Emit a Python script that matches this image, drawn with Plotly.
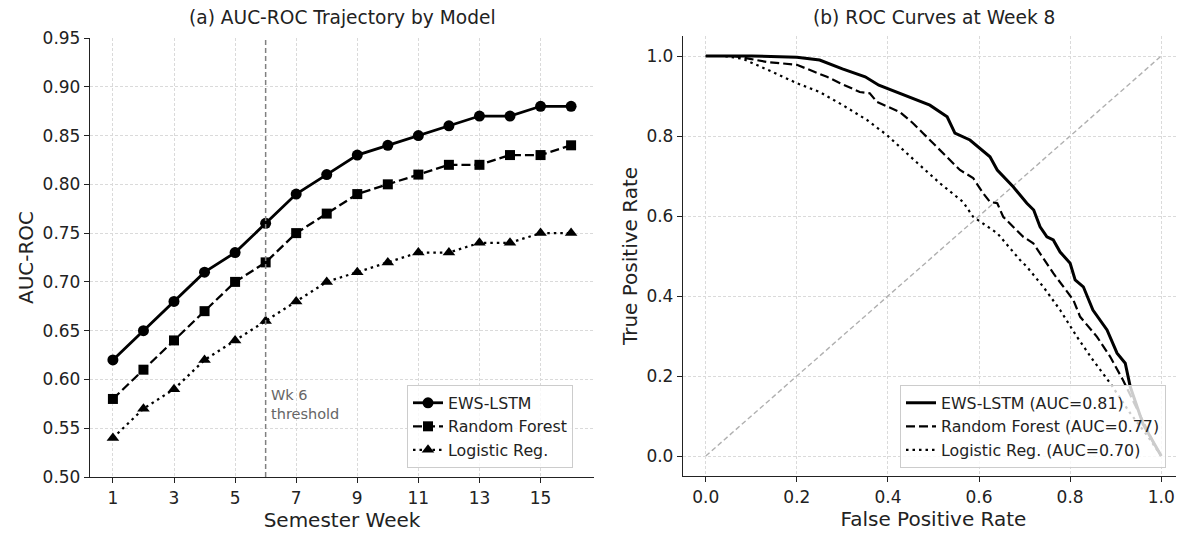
import plotly.graph_objects as go

# ---------------- data ----------------
weeks = list(range(1, 17))
ews_auc = [0.62, 0.65, 0.68, 0.71, 0.73, 0.76, 0.79, 0.81, 0.83, 0.84, 0.85, 0.86, 0.87, 0.87, 0.88, 0.88]
rf_auc = [0.58, 0.61, 0.64, 0.67, 0.70, 0.72, 0.75, 0.77, 0.79, 0.80, 0.81, 0.82, 0.82, 0.83, 0.83, 0.84]
lr_auc = [0.54, 0.57, 0.59, 0.62, 0.64, 0.66, 0.68, 0.70, 0.71, 0.72, 0.73, 0.73, 0.74, 0.74, 0.75, 0.75]

ews_fpr = [0.0, 0.10, 0.20, 0.25, 0.30, 0.35, 0.38, 0.426, 0.492, 0.53, 0.547, 0.58, 0.624, 0.64, 0.675,
           0.705, 0.72, 0.734, 0.749, 0.763, 0.778, 0.80, 0.811, 0.829, 0.85, 0.881, 0.903, 0.921, 0.932,
           0.96, 0.98, 1.0]
ews_tpr = [1.0, 1.0, 0.997, 0.99, 0.968, 0.948, 0.927, 0.907, 0.877, 0.848, 0.807, 0.79, 0.748, 0.715, 0.673,
           0.632, 0.615, 0.573, 0.548, 0.54, 0.51, 0.482, 0.44, 0.423, 0.365, 0.315, 0.257, 0.232, 0.173,
           0.08, 0.04, 0.0]

rf_fpr = [0.0, 0.06, 0.097, 0.134, 0.20, 0.229, 0.266, 0.295, 0.338, 0.36, 0.376, 0.426, 0.455, 0.477, 0.514,
          0.558, 0.587, 0.609, 0.624, 0.64, 0.653, 0.697, 0.719, 0.749, 0.763, 0.807, 0.822, 0.859, 0.888,
          0.916, 0.95, 0.98, 1.0]
rf_tpr = [1.0, 1.0, 0.993, 0.985, 0.978, 0.965, 0.948, 0.932, 0.91, 0.907, 0.885, 0.86, 0.832, 0.807, 0.765,
          0.715, 0.695, 0.657, 0.635, 0.632, 0.598, 0.548, 0.532, 0.482, 0.457, 0.39, 0.348, 0.298, 0.248,
          0.19, 0.11, 0.04, 0.0]

lr_fpr = [0.0, 0.04, 0.081, 0.112, 0.147, 0.20, 0.25, 0.301, 0.354, 0.398, 0.426, 0.47, 0.514, 0.565, 0.587,
          0.64, 0.69, 0.705, 0.741, 0.778, 0.815, 0.85, 0.888, 0.93, 0.97, 1.0]
lr_tpr = [1.0, 1.0, 0.993, 0.978, 0.96, 0.932, 0.91, 0.877, 0.84, 0.802, 0.772, 0.727, 0.682, 0.635, 0.598,
          0.557, 0.49, 0.473, 0.423, 0.365, 0.298, 0.24, 0.182, 0.11, 0.05, 0.0]

auc_labels = ["EWS-LSTM (AUC=0.81)", "Random Forest (AUC=0.77)", "Logistic Reg. (AUC=0.70)"]
model_names = ["EWS-LSTM", "Random Forest", "Logistic Reg."]
threshold_week = 6

FONT = "DejaVu Sans, Liberation Sans, sans-serif"
DASH = "9px,4px"
DOT = "2.5px,4px"
TICK = 17
LABEL = 20
TITLE = 18.6
LEG = 15.8

# the page body adds an 8px offset; figure is sized to fit the window
OFF = 8
W, H = 1184 - OFF, 535 - OFF


def xp(px):
    return (px - OFF) / W


def yp(py):
    return 1 - (py - OFF) / H


fig = go.Figure()

# ---------------- panel (a) ----------------
fig.add_trace(go.Scatter(x=weeks, y=ews_auc, mode="lines+markers", name=model_names[0],
                         line=dict(color="black", width=2.8),
                         marker=dict(symbol="circle", size=11, color="black"),
                         xaxis="x", yaxis="y", legend="legend"))
fig.add_trace(go.Scatter(x=weeks, y=rf_auc, mode="lines+markers", name=model_names[1],
                         line=dict(color="black", width=2.3, dash=DASH),
                         marker=dict(symbol="square", size=10, color="black"),
                         xaxis="x", yaxis="y", legend="legend"))
fig.add_trace(go.Scatter(x=weeks, y=lr_auc, mode="lines+markers", name=model_names[2],
                         line=dict(color="black", width=2.3, dash=DOT),
                         marker=dict(symbol="triangle-up", size=11, color="black"),
                         xaxis="x", yaxis="y", legend="legend"))

# threshold line
fig.add_trace(go.Scatter(x=[threshold_week, threshold_week], y=[0.5, 0.95], mode="lines",
                         line=dict(color="#808080", width=1.5, dash="5px,3px"),
                         showlegend=False, hoverinfo="skip", xaxis="x", yaxis="y"))

# ---------------- panel (b) ----------------
fig.add_trace(go.Scatter(x=[0, 1], y=[0, 1], mode="lines",
                         line=dict(color="#b0b0b0", width=1.4, dash="5px,3px"),
                         showlegend=False, hoverinfo="skip", xaxis="x2", yaxis="y2"))
fig.add_trace(go.Scatter(x=ews_fpr, y=ews_tpr, mode="lines", name=auc_labels[0],
                         line=dict(color="black", width=3),
                         xaxis="x2", yaxis="y2", legend="legend2"))
fig.add_trace(go.Scatter(x=rf_fpr, y=rf_tpr, mode="lines", name=auc_labels[1],
                         line=dict(color="black", width=2.2, dash=DASH),
                         xaxis="x2", yaxis="y2", legend="legend2"))
fig.add_trace(go.Scatter(x=lr_fpr, y=lr_tpr, mode="lines", name=auc_labels[2],
                         line=dict(color="black", width=2.2, dash=DOT),
                         xaxis="x2", yaxis="y2", legend="legend2"))

axis_common = dict(
    showline=True, linecolor="#222", linewidth=1.3,
    ticks="outside", ticklen=5, tickwidth=1.2, tickcolor="#222",
    showgrid=True, gridcolor="#dadada", gridwidth=0.8, griddash="3px,2px",
    zeroline=False, tickfont=dict(size=TICK, color="#222", family=FONT),
    mirror=False, automargin=False,
)

fig.update_layout(
    width=W, height=H,
    margin=dict(l=0, r=0, t=0, b=0, autoexpand=False),
    paper_bgcolor="white", plot_bgcolor="white",
    font=dict(family=FONT, color="#222"),
    xaxis=dict(axis_common, domain=[xp(90), xp(594)], range=[0.25, 16.75],
               tickvals=[1, 3, 5, 7, 9, 11, 13, 15], anchor="y",
               title=dict(text="Semester Week", font=dict(size=LABEL, family=FONT, color="#222"), standoff=2)),
    yaxis=dict(axis_common, domain=[yp(477), yp(38)], range=[0.5, 0.95], dtick=0.05, tickformat=".2f",
               anchor="x",
               title=dict(text="AUC-ROC", font=dict(size=LABEL, family=FONT, color="#222"), standoff=3)),
    xaxis2=dict(axis_common, domain=[xp(683), 1.0], range=[-0.05, 1.05], dtick=0.2, tickformat=".1f",
                anchor="y2",
                title=dict(text="False Positive Rate", font=dict(size=LABEL, family=FONT, color="#222"),
                           standoff=2)),
    yaxis2=dict(axis_common, domain=[yp(476), yp(36)], range=[-0.05, 1.05], dtick=0.2, tickformat=".1f",
                anchor="x2",
                title=dict(text="True Positive Rate", font=dict(size=LABEL, family=FONT, color="#222"),
                           standoff=3)),
    legend=dict(x=xp(407), y=yp(468), xanchor="left", yanchor="bottom",
                bgcolor="rgba(255,255,255,0.8)", bordercolor="#cccccc", borderwidth=1,
                font=dict(size=LEG, family=FONT, color="#222"), tracegroupgap=0, itemwidth=30),
    legend2=dict(x=xp(900), y=yp(468), xanchor="left", yanchor="bottom",
                 bgcolor="rgba(255,255,255,0.8)", bordercolor="#cccccc", borderwidth=1,
                 font=dict(size=LEG, family=FONT, color="#222"), tracegroupgap=0, itemwidth=30),
    annotations=[
        dict(text="(a) AUC-ROC Trajectory by Model", x=xp((90 + 594) / 2), y=yp(17),
             xref="paper", yref="paper", showarrow=False, xanchor="center", yanchor="middle",
             font=dict(size=TITLE, family=FONT, color="#222")),
        dict(text="(b) ROC Curves at Week 8", x=xp((683 + 1184) / 2), y=yp(17),
             xref="paper", yref="paper", showarrow=False, xanchor="center", yanchor="middle",
             font=dict(size=TITLE, family=FONT, color="#222")),
        dict(text="Wk 6<br>threshold", x=6.12, y=0.574, xref="x", yref="y", showarrow=False,
             xanchor="left", yanchor="middle", align="left",
             font=dict(size=14.5, family=FONT, color="#666")),
    ],
)

fig.write_html("out.html")
